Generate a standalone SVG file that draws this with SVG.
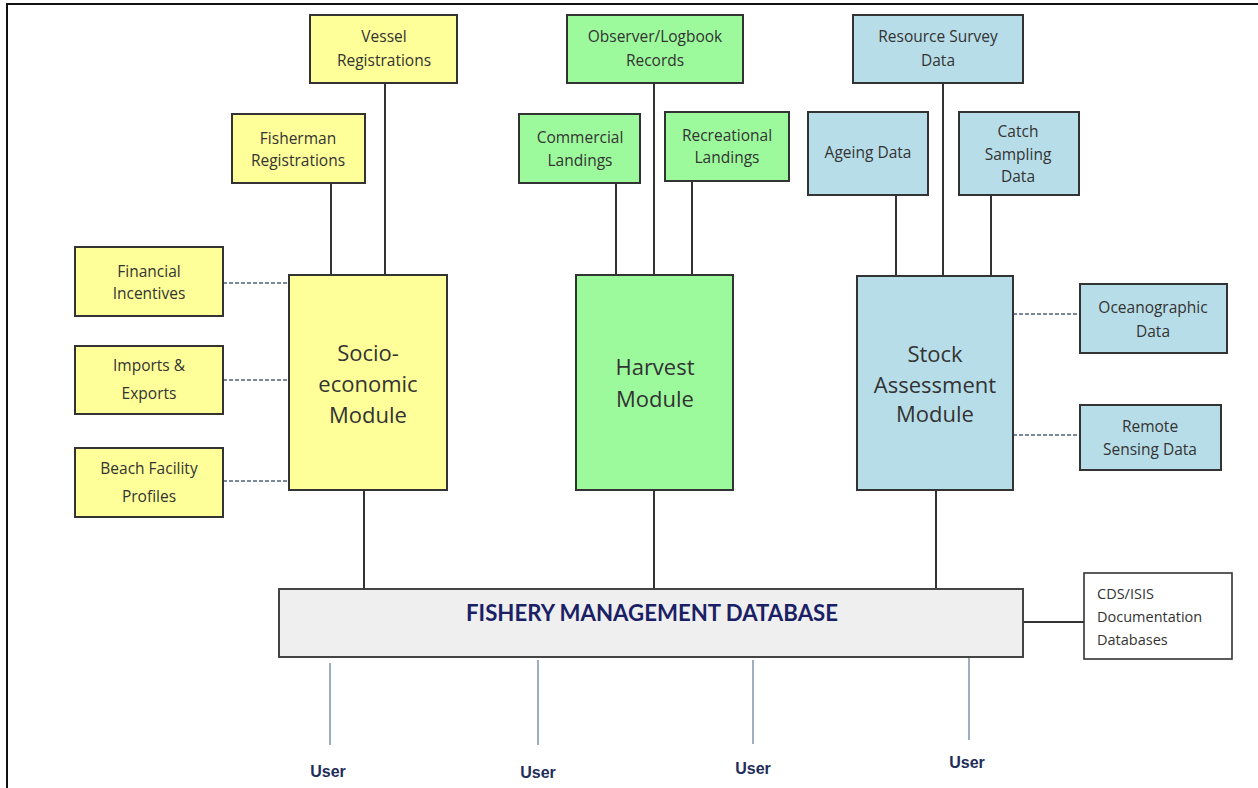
<svg xmlns="http://www.w3.org/2000/svg" width="1258" height="788" viewBox="0 0 1258 788">
<style>
.box{stroke:#333;stroke-width:2}
.y{fill:#FFFF99}
.g{fill:#9CFA9C}
.b{fill:#B7DDE8}
.t{font-family:"Open Sans","Liberation Sans",sans-serif;font-size:15.5px;fill:#333;text-anchor:middle}
.m{font-family:"Open Sans","Liberation Sans",sans-serif;font-size:22px;fill:#333;text-anchor:middle}
.ln{stroke:#333;stroke-width:2;fill:none}
.ds{stroke:#50627A;stroke-width:1.6;stroke-dasharray:4 2;fill:none}
.ul{stroke:#6F829C;stroke-width:1.3;fill:none}
.u{font-family:"Liberation Sans",sans-serif;font-size:16px;font-weight:bold;fill:#1F2D5A;text-anchor:middle}
</style>
<rect x="0" y="0" width="1258" height="788" fill="#fff"/>
<rect x="7" y="4" width="1260" height="800" fill="none" stroke="#111" stroke-width="2"/>

<g id="connectors">
<line class="ln" x1="331" y1="183" x2="331" y2="275"/>
<line class="ln" x1="385" y1="83" x2="385" y2="275"/>
<line class="ds" x1="223" y1="283" x2="289" y2="283"/>
<line class="ds" x1="223" y1="380" x2="289" y2="380"/>
<line class="ds" x1="223" y1="481" x2="289" y2="481"/>
<line class="ln" x1="364" y1="490" x2="364" y2="589"/>
<line class="ln" x1="616" y1="183" x2="616" y2="275"/>
<line class="ln" x1="654" y1="83" x2="654" y2="275"/>
<line class="ln" x1="692" y1="181" x2="692" y2="275"/>
<line class="ln" x1="654" y1="490" x2="654" y2="589"/>
<line class="ln" x1="896" y1="195" x2="896" y2="276"/>
<line class="ln" x1="943" y1="83" x2="943" y2="276"/>
<line class="ln" x1="991" y1="195" x2="991" y2="276"/>
<line class="ds" x1="1013" y1="314" x2="1080" y2="314"/>
<line class="ds" x1="1013" y1="435" x2="1080" y2="435"/>
<line class="ln" x1="936" y1="490" x2="936" y2="589"/>
<line class="ln" x1="1023" y1="622" x2="1084" y2="622"/>
<line class="ul" x1="330" y1="663" x2="330" y2="745"/>
<line class="ul" x1="538" y1="660" x2="538" y2="745"/>
<line class="ul" x1="753" y1="660" x2="753" y2="744"/>
<line class="ul" x1="969" y1="658" x2="969" y2="740"/>
</g>

<g id="vessel"><rect class="box y" x="310" y="15" width="147" height="68"/><text class="t" x="384" y="42">Vessel</text><text class="t" x="384" y="66">Registrations</text></g>
<g id="fisherman"><rect class="box y" x="232" y="114" width="133" height="69"/><text class="t" x="298" y="144">Fisherman</text><text class="t" x="298" y="166">Registrations</text></g>
<g id="financial"><rect class="box y" x="75" y="247" width="148" height="69"/><text class="t" x="149" y="277">Financial</text><text class="t" x="149" y="299">Incentives</text></g>
<g id="imports"><rect class="box y" x="75" y="346" width="148" height="68"/><text class="t" x="149" y="371">Imports &amp;</text><text class="t" x="149" y="399">Exports</text></g>
<g id="beach"><rect class="box y" x="75" y="448" width="148" height="69"/><text class="t" x="149" y="474">Beach Facility</text><text class="t" x="149" y="502">Profiles</text></g>
<g id="socio"><rect class="box y" x="289" y="275" width="158" height="215"/><text class="m" x="368" y="361">Socio-</text><text class="m" x="368" y="392">economic</text><text class="m" x="368" y="423">Module</text></g>

<g id="observer"><rect class="box g" x="567" y="15" width="176" height="68"/><text class="t" x="655" y="42">Observer/Logbook</text><text class="t" x="655" y="66">Records</text></g>
<g id="commercial"><rect class="box g" x="519" y="114" width="121" height="69"/><text class="t" x="580" y="143">Commercial</text><text class="t" x="580" y="166">Landings</text></g>
<g id="recreational"><rect class="box g" x="665" y="112" width="124" height="69"/><text class="t" x="727" y="141">Recreational</text><text class="t" x="727" y="163">Landings</text></g>
<g id="harvest"><rect class="box g" x="576" y="275" width="157" height="215"/><text class="m" x="655" y="375">Harvest</text><text class="m" x="655" y="407">Module</text></g>

<g id="resource"><rect class="box b" x="853" y="15" width="170" height="68"/><text class="t" x="938" y="42">Resource Survey</text><text class="t" x="938" y="66">Data</text></g>
<g id="ageing"><rect class="box b" x="808" y="112" width="120" height="83"/><text class="t" x="868" y="158">Ageing Data</text></g>
<g id="catch"><rect class="box b" x="959" y="112" width="120" height="83"/><text class="t" x="1018" y="137">Catch</text><text class="t" x="1018" y="160">Sampling</text><text class="t" x="1018" y="182">Data</text></g>
<g id="stock"><rect class="box b" x="857" y="276" width="156" height="214"/><text class="m" x="935" y="362">Stock</text><text class="m" x="935" y="393">Assessment</text><text class="m" x="935" y="422">Module</text></g>
<g id="oceanographic"><rect class="box b" x="1080" y="284" width="147" height="69"/><text class="t" x="1153" y="313">Oceanographic</text><text class="t" x="1153" y="337">Data</text></g>
<g id="remote"><rect class="box b" x="1080" y="405" width="141" height="65"/><text class="t" x="1150" y="432">Remote</text><text class="t" x="1150" y="455">Sensing Data</text></g>

<g id="database"><rect x="279" y="589" width="744" height="68" fill="#EFEFEF" stroke="#444" stroke-width="2"/><text x="652" y="621" font-family="Lato,'Liberation Sans',sans-serif" font-size="22" font-weight="bold" fill="#1B1F66" text-anchor="middle" textLength="372" lengthAdjust="spacingAndGlyphs">FISHERY MANAGEMENT DATABASE</text></g>
<g id="cds"><rect x="1084" y="573" width="148" height="86" fill="#fff" stroke="#333" stroke-width="1.6"/><text font-family="'Open Sans','Liberation Sans',sans-serif" font-size="14.5" fill="#333"><tspan x="1097" y="599">CDS/ISIS</tspan><tspan x="1097" y="622">Documentation</tspan><tspan x="1097" y="645">Databases</tspan></text></g>

<g id="user1"><text class="u" x="328" y="777">User</text></g>
<g id="user2"><text class="u" x="538" y="778">User</text></g>
<g id="user3"><text class="u" x="753" y="774">User</text></g>
<g id="user4"><text class="u" x="967" y="768">User</text></g>
</svg>
